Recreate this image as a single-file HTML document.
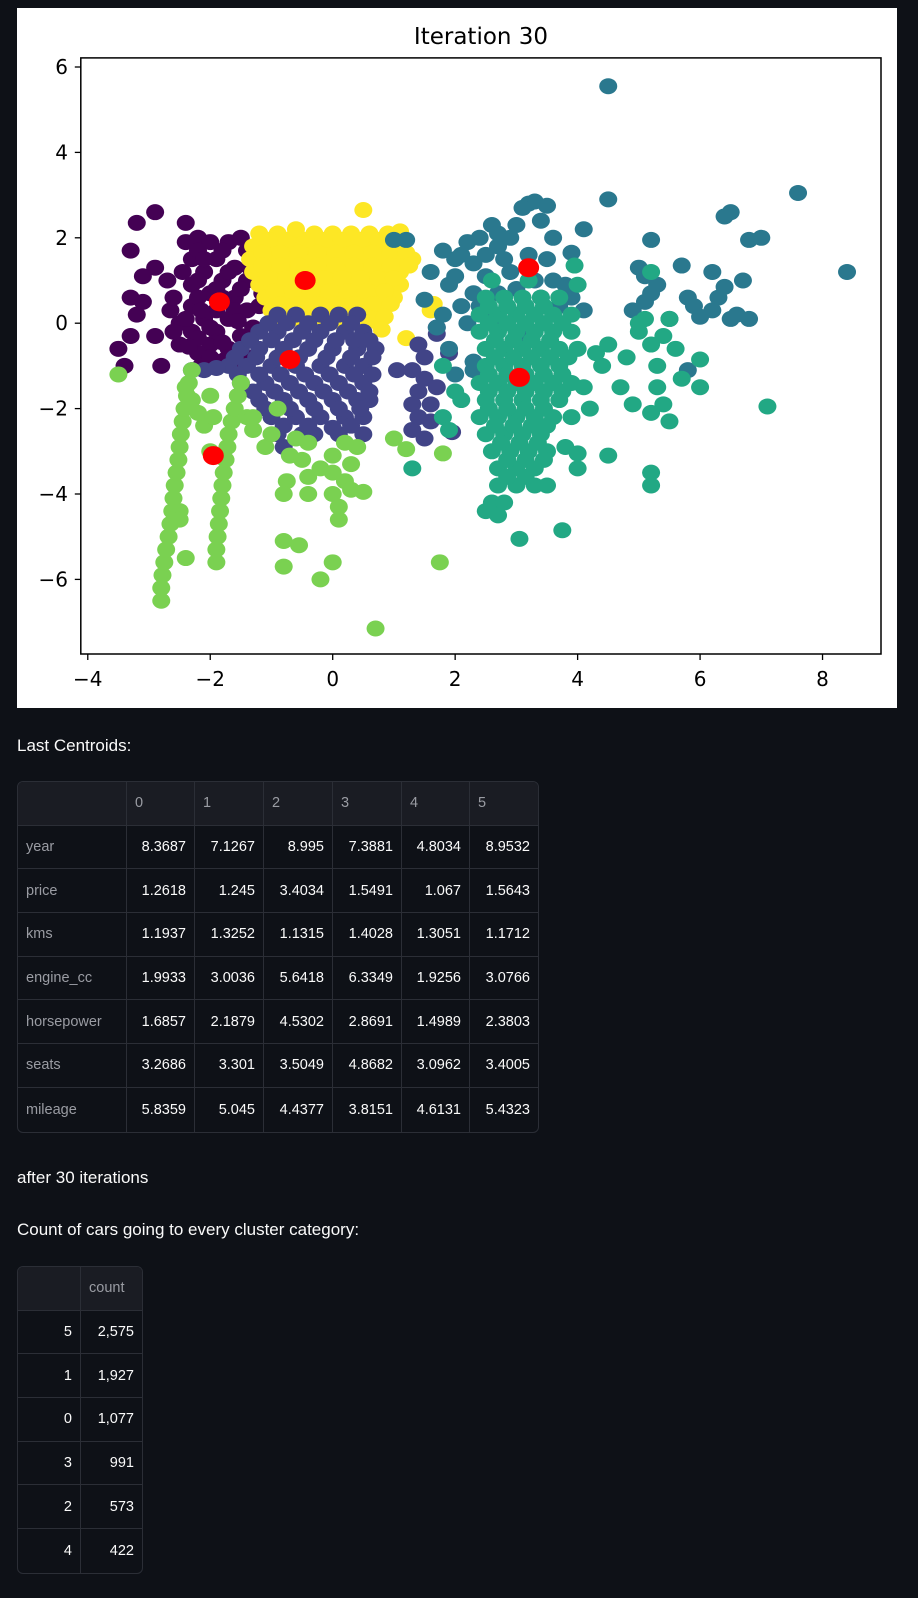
<!DOCTYPE html>
<html><head><meta charset="utf-8">
<style>
body{margin:0;background:#0e1117;width:918px;height:1598px;overflow:hidden;font-family:"Liberation Sans",sans-serif;color:#fafafa;position:relative}
.t{position:absolute;font-size:17px;left:17px}
table{position:absolute;border-collapse:separate;border-spacing:0;border:1px solid #2b2e36;border-radius:6px;font-size:14.5px;overflow:hidden}
td,th{border-right:1px solid #2b2e36;border-bottom:1px solid #2b2e36;padding:0 8px;height:43.7px;box-sizing:border-box}
th{font-weight:normal;color:#9a9ca3;background:#1a1c23;text-align:left}
td.i{color:#9a9ca3;text-align:left}
td{text-align:right}
tr>*:last-child{border-right:none}
tr:last-child>*{border-bottom:none}
</style></head><body>
<svg style="position:absolute;left:0;top:0" width="918" height="720">
<rect x="17" y="8" width="880" height="700" fill="#fff"/>
<g id="plot"></g>
</svg>
<div class="t" style="top:736px">Last Centroids:</div>
<table style="left:17px;top:781px;width:522px">
<tr><th style="width:109px"></th><th style="width:68px">0</th><th style="width:69px">1</th><th style="width:69px">2</th><th style="width:69px">3</th><th style="width:68px">4</th><th>5</th></tr>
<tr><td class="i">year</td><td>8.3687</td><td>7.1267</td><td>8.995</td><td>7.3881</td><td>4.8034</td><td>8.9532</td></tr>
<tr><td class="i">price</td><td>1.2618</td><td>1.245</td><td>3.4034</td><td>1.5491</td><td>1.067</td><td>1.5643</td></tr>
<tr><td class="i">kms</td><td>1.1937</td><td>1.3252</td><td>1.1315</td><td>1.4028</td><td>1.3051</td><td>1.1712</td></tr>
<tr><td class="i">engine_cc</td><td>1.9933</td><td>3.0036</td><td>5.6418</td><td>6.3349</td><td>1.9256</td><td>3.0766</td></tr>
<tr><td class="i">horsepower</td><td>1.6857</td><td>2.1879</td><td>4.5302</td><td>2.8691</td><td>1.4989</td><td>2.3803</td></tr>
<tr><td class="i">seats</td><td>3.2686</td><td>3.301</td><td>3.5049</td><td>4.8682</td><td>3.0962</td><td>3.4005</td></tr>
<tr><td class="i">mileage</td><td>5.8359</td><td>5.045</td><td>4.4377</td><td>3.8151</td><td>4.6131</td><td>5.4323</td></tr>
</table>
<div class="t" style="top:1168px">after 30 iterations</div>
<div class="t" style="top:1220px">Count of cars going to every cluster category:</div>
<table style="left:17px;top:1266px;width:126px">
<tr><th style="width:63px"></th><th>count</th></tr>
<tr><td>5</td><td>2,575</td></tr>
<tr><td>1</td><td>1,927</td></tr>
<tr><td>0</td><td>1,077</td></tr>
<tr><td>3</td><td>991</td></tr>
<tr><td>2</td><td>573</td></tr>
<tr><td>4</td><td>422</td></tr>
</table>
<script>
const c0=[[-2.9,2.6],[-3.2,2.35],[-2.4,2.35],[-3.3,1.7],[-2.9,1.3],[-3.1,1.1],[-3.3,0.6],[-3.2,0.2],[-3.3,-0.3],[-3.5,-0.6],[-3.4,-1.0],[-2.8,-1.0],[-3.1,0.5],[-2.9,-0.3],[-2.65,0.3],[-2.7,1.0],[-2.6,0.6],[-2.5,0],[-2.4,1.9],[-2.2,2.0],[-2.3,1.5],[-2.1,1.2],[-2.3,0.9],[-2.0,0.7],[-2.3,0.4],[-2.1,0.1],[-2.3,-0.2],[-2.0,-0.5],[-2.2,-0.7],[-1.9,-0.2],[-1.8,1.0],[-1.9,1.5],[-1.7,1.9],[-1.5,2.0],[-1.4,1.7],[-1.6,1.3],[-1.4,1.0],[-1.6,0.6],[-1.4,0.3],[-1.7,0.1],[-1.5,-0.3],[-1.7,-0.6],[-1.4,-0.8],[-1.9,-0.9],[-2.5,-0.5],[-2.6,-0.2],[-2.0,1.9],[-2.2,1.7],[-1.9,0.3],[-1.5,0.8],[-1.2,0.4],[-1.3,-0.1],[-1.15,0.7],[-2.45,1.2],[-2.15,-1.0],[-1.6,-1.0],[-2.1,1.5],[-1.8,1.7],[-2.2,1.0],[-1.9,0.8],[-1.7,1.2],[-2.2,0.6],[-1.8,0.6],[-2.15,0.3],[-1.6,0.3],[-2.4,0.1],[-2.2,-0.35],[-1.8,-0.45],[-1.55,0.05],[-2.0,-0.1],[-1.35,1.3],[-2.35,-0.55],[-1.75,-0.85],[-2.0,-0.8]];
const c5=[[-1.2,2.1],[-0.9,2.1],[-0.6,2.1],[-0.3,2.1],[0,2.1],[0.3,2.1],[0.6,2.1],[0.9,2.1],[-1.3,1.8],[-1.0,1.8],[-0.7,1.8],[-0.4,1.8],[-0.1,1.8],[0.2,1.8],[0.5,1.8],[0.8,1.8],[1.1,1.8],[-1.35,1.5],[-1.05,1.5],[-0.75,1.5],[-0.45,1.5],[-0.15,1.5],[0.15,1.5],[0.45,1.5],[0.75,1.5],[1.05,1.5],[1.3,1.5],[-1.3,1.2],[-1.0,1.2],[-0.7,1.2],[-0.4,1.2],[-0.1,1.2],[0.2,1.2],[0.5,1.2],[0.8,1.2],[1.1,1.2],[-1.2,0.9],[-0.9,0.9],[-0.6,0.9],[-0.3,0.9],[0,0.9],[0.3,0.9],[0.6,0.9],[0.9,0.9],[1.1,0.9],[-1.1,0.6],[-0.8,0.6],[-0.5,0.6],[-0.2,0.6],[0.1,0.6],[0.4,0.6],[0.7,0.6],[1.0,0.6],[-1.0,0.3],[-0.7,0.3],[-0.4,0.3],[-0.1,0.3],[0.2,0.3],[0.5,0.3],[0.8,0.3],[-0.8,0.05],[-0.5,0.05],[-0.2,0.05],[0.1,0.05],[0.4,0.05],[0.7,0.05],[-1.05,1.95],[-0.75,1.95],[-0.45,1.95],[-0.15,1.95],[0.15,1.95],[0.45,1.95],[0.75,1.95],[1.0,1.95],[-1.15,1.65],[-0.85,1.65],[-0.55,1.65],[-0.25,1.65],[0.05,1.65],[0.35,1.65],[0.65,1.65],[0.95,1.65],[1.2,1.65],[-1.15,1.35],[-0.85,1.35],[-0.55,1.35],[-0.25,1.35],[0.05,1.35],[0.35,1.35],[0.65,1.35],[0.95,1.35],[1.25,1.35],[-1.05,1.05],[-0.75,1.05],[-0.45,1.05],[-0.15,1.05],[0.15,1.05],[0.45,1.05],[0.75,1.05],[1.0,1.05],[-0.95,0.75],[-0.65,0.75],[-0.35,0.75],[-0.05,0.75],[0.25,0.75],[0.55,0.75],[0.85,0.75],[-0.85,0.45],[-0.55,0.45],[-0.25,0.45],[0.05,0.45],[0.35,0.45],[0.65,0.45],[0.95,0.45],[-0.65,0.2],[-0.35,0.2],[0.25,0.15],[0.55,0.15],[0.85,0.15],[0.8,-0.15],[0.5,2.65],[1.2,-0.35],[1.65,0.45],[1.6,0.3],[1.1,2.15],[-0.6,2.2]];
const c1=[[-0.9,0.2],[-0.6,0.2],[-0.2,0.2],[0.1,0.2],[0.4,0.2],[-1.2,-0.2],[-0.9,-0.2],[-0.5,-0.2],[-0.2,-0.2],[0.2,-0.2],[0.5,-0.2],[-1.5,-0.6],[-1.2,-0.6],[-0.8,-0.6],[-0.4,-0.6],[0,-0.6],[0.4,-0.6],[0.7,-0.6],[-1.7,-1.0],[-1.4,-1.0],[-1.0,-1.0],[-0.6,-1.0],[-0.2,-1.0],[0.2,-1.0],[0.5,-1.0],[-1.5,-1.4],[-1.1,-1.4],[-0.7,-1.4],[-0.3,-1.4],[0.1,-1.4],[0.5,-1.4],[-1.2,-1.8],[-0.8,-1.8],[-0.4,-1.8],[0,-1.8],[0.4,-1.8],[0.6,-1.8],[-1.0,-2.2],[-0.6,-2.2],[-0.2,-2.2],[0.2,-2.2],[0.5,-2.2],[-0.9,-2.6],[-0.5,-2.6],[-0.3,-2.6],[0.1,-2.6],[0.5,-2.6],[-1.05,0.0],[-0.75,0.0],[-0.4,0.0],[-0.05,0.0],[0.3,0.0],[-1.35,-0.4],[-1.0,-0.4],[-0.65,-0.4],[-0.3,-0.4],[0.05,-0.4],[0.35,-0.4],[0.6,-0.4],[-1.6,-0.8],[-1.25,-0.8],[-0.9,-0.8],[-0.55,-0.8],[-0.1,-0.8],[0.3,-0.8],[0.65,-0.8],[-1.55,-1.2],[-1.2,-1.2],[-0.85,-1.2],[-0.45,-1.2],[-0.05,-1.2],[0.35,-1.2],[0.65,-1.2],[-1.3,-1.6],[-0.95,-1.6],[-0.55,-1.6],[-0.15,-1.6],[0.25,-1.6],[0.6,-1.6],[-1.1,-2.0],[-0.7,-2.0],[-0.3,-2.0],[0.1,-2.0],[0.45,-2.0],[-0.8,-2.4],[-0.4,-2.4],[0.3,-2.4],[-0.8,-2.9],[0.0,-2.45],[-2.3,-1.1],[-2.1,-1.1],[-1.9,-1.05],[1.4,-0.5],[1.5,-0.8],[1.3,-1.1],[1.5,-1.3],[1.4,-1.6],[1.3,-1.9],[1.4,-2.2],[1.3,-2.5],[1.5,-2.7],[1.6,-2.3],[1.7,-1.5],[1.6,-1.9],[1.95,-2.55],[1.9,-0.7],[1.7,-0.1],[1.05,-1.1],[1.7,-0.25]];
const c4=[[-2.8,-6.5],[-2.8,-6.2],[-2.78,-5.9],[-2.75,-5.6],[-2.72,-5.3],[-2.68,-5.0],[-2.65,-4.7],[-2.62,-4.4],[-2.6,-4.1],[-2.58,-3.8],[-2.55,-3.5],[-2.52,-3.2],[-2.5,-2.9],[-2.48,-2.6],[-2.45,-2.3],[-2.42,-2.0],[-2.38,-1.7],[-2.35,-1.4],[-2.3,-1.1],[-2.5,-4.4],[-2.5,-4.6],[-2.4,-5.5],[-1.9,-5.6],[-1.9,-5.3],[-1.88,-5.0],[-1.86,-4.7],[-1.84,-4.4],[-1.82,-4.1],[-1.8,-3.8],[-1.78,-3.5],[-1.75,-3.2],[-1.72,-2.9],[-1.7,-2.6],[-1.65,-2.3],[-1.6,-2.0],[-1.55,-1.7],[-1.5,-1.4],[-2.1,-2.4],[-2.0,-1.7],[-1.4,-2.2],[-1.3,-2.5],[-2.2,-2.1],[-1.95,-2.2],[-1.1,-2.9],[-1.0,-2.6],[-0.7,-3.1],[-0.75,-3.7],[-0.8,-4.0],[-0.5,-3.2],[-0.4,-2.8],[-0.4,-3.6],[-0.4,-4.0],[-0.2,-3.4],[0,-3.1],[0,-3.5],[0,-4.0],[0.1,-4.3],[0.1,-4.6],[0.2,-3.7],[0.3,-3.3],[0.3,-3.9],[0.5,-3.95],[0.4,-2.9],[0.2,-2.8],[-0.6,-2.7],[-1.3,-2.2],[-0.9,-2.0],[-2.0,-3.0],[-3.5,-1.2],[-0.8,-5.1],[-0.55,-5.2],[-0.8,-5.7],[0,-5.6],[-0.2,-6.0],[0.7,-7.15],[1.75,-5.6],[1.8,-3.05],[1.0,-2.7],[1.2,-2.95],[-2.4,-1.5],[-2.3,-1.8]];
const c2=[[1.8,1.7],[1.6,1.2],[1.5,0.55],[1.9,0.9],[2.1,1.6],[2.2,1.9],[2.3,1.4],[2.0,1.1],[2.4,2.0],[2.6,2.3],[2.7,1.8],[2.5,1.1],[2.8,1.5],[2.9,2.0],[3.0,2.3],[3.2,2.8],[3.3,2.85],[3.1,2.7],[3.5,2.75],[3.4,2.4],[3.6,2.0],[3.5,1.5],[3.3,1.0],[3.6,1.0],[3.8,0.9],[3.4,0.6],[3.0,0.8],[2.7,0.7],[2.3,0.7],[2.1,0.4],[1.8,0.2],[1.7,-0.1],[2.2,0.0],[2.6,0.1],[3.7,0.4],[3.9,0.6],[4.1,0.3],[3.9,1.65],[4.1,2.2],[1.2,1.95],[1.0,1.95],[1.9,-0.6],[2.3,-0.9],[2.0,-1.2],[2.3,-1.1],[3.1,-0.3],[2.5,1.6],[2.9,1.2],[3.2,1.6],[2.4,0.4],[2.0,1.5],[2.7,2.1],[4.5,5.55],[4.5,2.9],[7.6,3.05],[8.4,1.2],[6.4,2.5],[6.5,2.6],[6.8,1.95],[7.0,2.0],[5.2,1.95],[5.7,1.35],[6.2,1.2],[6.7,1.0],[5.8,-1.1],[6.3,0.6],[6.0,0.15],[6.5,0.1],[6.8,0.1],[5.8,0.6],[5.0,1.3],[5.1,1.1],[5.2,0.7],[4.9,0.3],[5.3,0.9],[6.2,0.3],[5.5,0.1],[6.4,0.85],[6.6,0.2],[5.9,0.4],[5.1,0.5]];
const c3=[[2.6,1.0],[3.2,1.0],[2.5,0.6],[2.8,0.6],[3.1,0.6],[3.4,0.6],[3.7,0.6],[2.4,0.2],[2.7,0.2],[3.0,0.2],[3.3,0.2],[3.6,0.2],[3.9,0.2],[2.4,-0.2],[2.7,-0.2],[3.0,-0.2],[3.3,-0.2],[3.6,-0.2],[3.9,-0.2],[2.5,-0.6],[2.8,-0.6],[3.1,-0.6],[3.4,-0.6],[3.7,-0.6],[4.0,-0.6],[2.5,-1.0],[2.8,-1.0],[3.1,-1.0],[3.4,-1.0],[3.7,-1.0],[2.4,-1.4],[2.7,-1.4],[3.0,-1.4],[3.3,-1.4],[3.6,-1.4],[3.9,-1.4],[2.5,-1.8],[2.8,-1.8],[3.1,-1.8],[3.4,-1.8],[3.7,-1.8],[2.4,-2.2],[2.7,-2.2],[3.0,-2.2],[3.3,-2.2],[3.6,-2.2],[2.5,-2.6],[2.8,-2.6],[3.1,-2.6],[3.4,-2.6],[2.6,-3.0],[2.9,-3.0],[3.2,-3.0],[3.5,-3.0],[2.7,-3.4],[3.0,-3.4],[3.3,-3.4],[2.7,-3.8],[3.0,-3.8],[3.3,-3.8],[3.5,-3.8],[2.6,-4.2],[2.8,-4.2],[2.55,0.4],[2.85,0.4],[3.15,0.4],[3.45,0.4],[2.55,0.0],[2.85,0.0],[3.15,0.0],[3.45,0.0],[3.75,0.0],[2.65,-0.4],[2.95,-0.4],[3.25,-0.4],[3.55,-0.4],[2.65,-0.8],[2.95,-0.8],[3.25,-0.8],[3.55,-0.8],[3.85,-0.8],[2.55,-1.2],[2.85,-1.2],[3.15,-1.2],[3.45,-1.2],[3.75,-1.2],[2.55,-1.6],[2.85,-1.6],[3.15,-1.6],[3.45,-1.6],[3.75,-1.6],[2.55,-2.0],[2.85,-2.0],[3.15,-2.0],[3.45,-2.0],[2.65,-2.4],[2.95,-2.4],[3.25,-2.4],[3.5,-2.4],[2.75,-2.8],[3.05,-2.8],[3.35,-2.8],[2.85,-3.2],[3.15,-3.2],[3.45,-3.2],[2.85,-3.6],[3.15,-3.6],[2.5,-4.4],[2.7,-4.5],[3.05,-5.05],[3.75,-4.85],[7.1,-1.95],[4.5,-3.1],[4.0,-3.05],[3.8,-2.9],[4.0,-3.4],[3.9,-2.2],[5.2,-3.5],[5.2,-3.8],[5.5,-2.3],[5.4,-1.9],[6.0,-1.5],[6.0,-0.85],[4.5,-0.5],[4.4,-1.0],[4.7,-1.5],[4.8,-0.8],[5.0,-0.2],[5.1,0.1],[5.2,-0.5],[5.3,-1.0],[5.4,-0.3],[5.5,0.1],[5.3,-1.5],[5.7,-1.3],[5.2,-2.1],[4.9,-1.9],[5.2,1.2],[4.1,-1.5],[4.2,-2.0],[4.3,-0.7],[1.8,-2.2],[1.9,-2.5],[2.0,-1.6],[1.8,-1.0],[1.3,-3.4],[2.1,-1.8],[4.0,0.9],[3.95,1.35],[5.0,0.0],[5.6,-0.6]];
const centroids=[[-1.85,0.5],[-0.45,1.0],[-0.7,-0.85],[-1.95,-3.1],[3.2,1.3],[3.05,-1.27]];
const xTicks=[-4,-2,0,2,4,6,8];
const yTicks=[6,4,2,0,-2,-4,-6];
const X=v=>332.7+v*61.23, Y=v=>323.2-v*42.7;
const NS="http://www.w3.org/2000/svg";
const g=document.getElementById('plot');
function mk(t,a){const e=document.createElementNS(NS,t);for(const k in a)e.setAttribute(k,a[k]);g.appendChild(e);return e;}
const series=[[c0,'#440154','cluster-0'],[c5,'#fde725','cluster-5'],[c1,'#414487','cluster-1'],[c4,'#7ad151','cluster-4'],[c2,'#2a788e','cluster-2'],[c3,'#22a884','cluster-3']];
series.forEach(([pts,col,nm])=>pts.forEach(p=>{const e=mk('ellipse',{cx:X(p[0]),cy:Y(p[1]),rx:9,ry:8,fill:col});

}));
centroids.forEach(p=>{const e=mk('ellipse',{cx:X(p[0]),cy:Y(p[1]),rx:10.5,ry:9.5,fill:'#ff0000'});

});
const fr=mk('rect',{x:80.8,y:57.9,width:800.2,height:596.1,fill:'none',stroke:'#000','stroke-width':1.5});


xTicks.forEach(v=>{mk('line',{x1:X(v),x2:X(v),y1:654,y2:660,stroke:'#000','stroke-width':1.3});
const t=mk('text',{x:X(v),y:686,'text-anchor':'middle','font-size':20,'font-family':'DejaVu Sans, sans-serif'});t.textContent=(v<0?'\u2212'+(-v):v);

});
yTicks.forEach(v=>{mk('line',{x1:74.8,x2:80.8,y1:Y(v),y2:Y(v),stroke:'#000','stroke-width':1.3});
const t=mk('text',{x:68,y:Y(v)+7,'text-anchor':'end','font-size':20,'font-family':'DejaVu Sans, sans-serif'});t.textContent=(v<0?'\u2212'+(-v):v);

});
const ti=mk('text',{x:481,y:44,'text-anchor':'middle','font-size':23,'font-family':'DejaVu Sans, sans-serif'});ti.textContent='Iteration 30';


</script>
</body></html>
